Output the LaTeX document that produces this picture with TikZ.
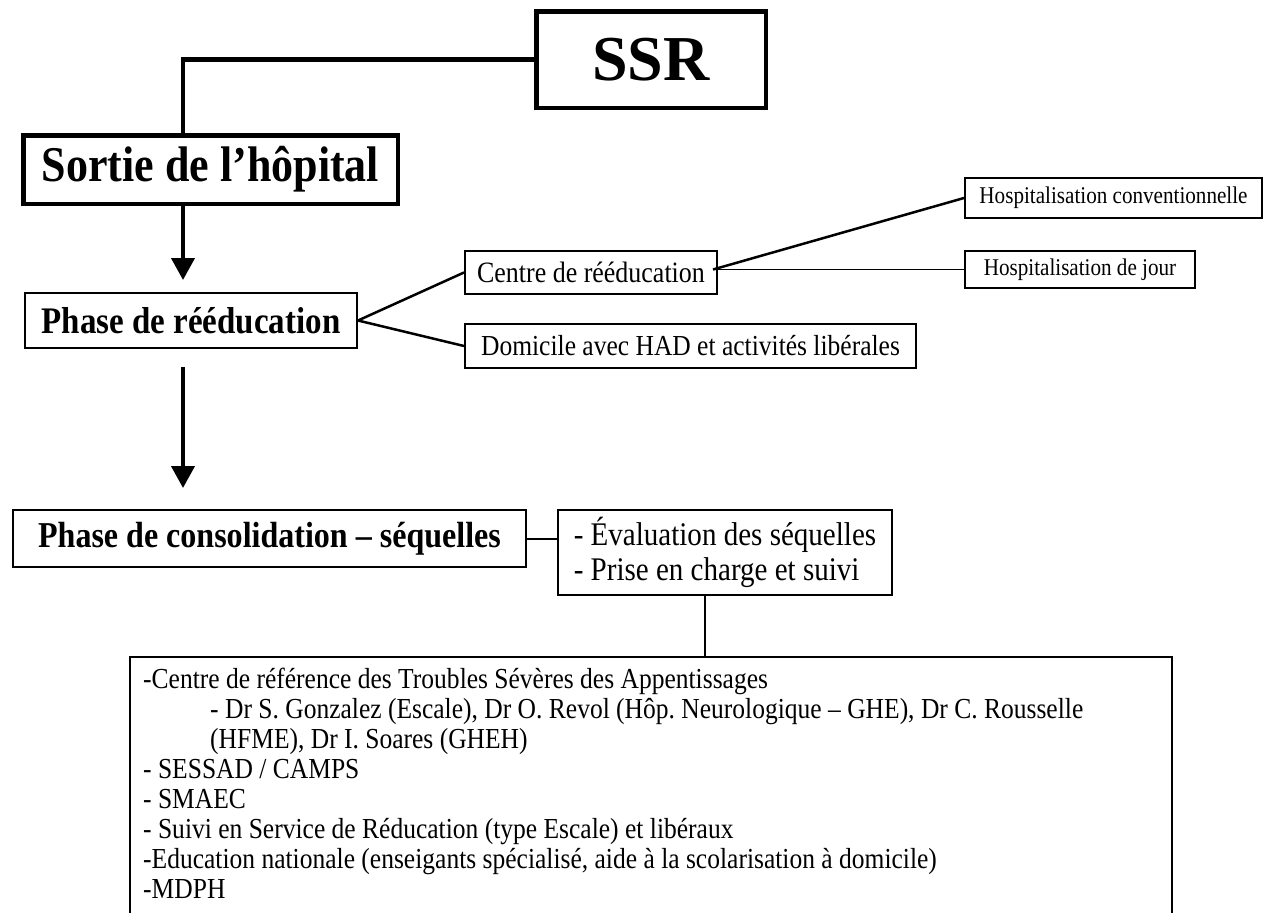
\documentclass[tikz,border=0pt]{standalone}
\usepackage{fontspec}
\setmainfont[FakeStretch=0.88]{Liberation Serif}
\newfontfamily\droit{Liberation Serif}
\usetikzlibrary{arrows.meta}

\begin{document}
\frenchspacing
\begin{tikzpicture}[x=1pt,y=-1pt,
  boite/.style={draw,line width=2pt,inner sep=0pt,align=center},
  grasse/.style={boite,line width=4.5pt},
  lien/.style={line width=2pt},
  fleche/.style={line width=4pt,-{Triangle[width=23pt,length=22pt]}}]
\useasboundingbox (0,0) rectangle (1264,913);
\coordinate (axe) at (183,0);
\coordinate (descente) at (705,0);

% SSR et sortie
\node[grasse,minimum width=229.5pt,minimum height=96.5pt,font=\droit\fontsize{64}{70}\selectfont\bfseries] (ssr) at (651,59.5) {SSR};
\node[grasse,minimum width=374.5pt,minimum height=68.5pt,font=\fontsize{50}{55}\selectfont\bfseries] (sortie) at (210.5,169.5) {Sortie de l’hôpital};
\draw[line width=4.5pt] (ssr.west) -| (sortie.north -| axe);

% Phase de reeducation
\node[boite,minimum width=332pt,minimum height=55pt,font=\fontsize{37.5}{42}\selectfont\bfseries] (reeduc) at (191,320.5) {Phase de rééducation};
\draw[fleche,shorten >=12pt] (sortie.south -| axe) -- (reeduc.north -| axe);

\node[boite,minimum width=252pt,minimum height=43pt,font=\fontsize{29.5}{34}\selectfont] (centre) at (591,272.5) {Centre de rééducation};
\node[boite,minimum width=451pt,minimum height=44pt,font=\fontsize{29}{34}\selectfont] (domicile) at (690.5,346) {Domicile avec HAD et activités libérales};
\draw[line width=2.5pt] (reeduc.east) -- (centre.west);
\draw[line width=2.5pt] (reeduc.east) -- (domicile.west);

\node[boite,minimum width=297pt,minimum height=40pt,font=\fontsize{24}{28}\selectfont] (hconv) at (1113.5,198) {Hospitalisation conventionnelle};
\node[boite,minimum width=230pt,minimum height=37pt,font=\fontsize{24}{28}\selectfont] (hjour) at (1080,269.5) {Hospitalisation de jour};
\draw[line width=2.5pt] ([xshift=-5pt,yshift=3pt]centre.east) -- (hconv.west);
\draw[line width=1.5pt] ([xshift=-5pt,yshift=3pt]centre.east) -- (hjour.west);

% Phase de consolidation
\node[boite,minimum width=513pt,minimum height=57pt,font=\fontsize{36.4}{41}\selectfont\bfseries] (consol) at (269.5,538.5) {Phase de consolidation – séquelles};
\draw[fleche,shorten <=18pt,shorten >=21pt] (reeduc.south -| axe) -- (consol.north -| axe);

\node[boite,minimum width=334pt,minimum height=85pt,align=flush left,font=\fontsize{33}{35}\selectfont] (eval) at (725,552.5) {- Évaluation des séquelles\\- Prise en charge et suivi};
\draw[lien] (consol.east) -- (consol.east -| eval.west);

% Prise en charge
\node[boite,anchor=north west,minimum width=1042pt,minimum height=320pt] (liste) at (129,656) {};
\draw[lien] (eval.south -| descente) -- (liste.north -| descente);
\node[anchor=base west,text width=1020pt,align=flush left,inner sep=0pt,font=\fontsize{29}{30}\selectfont] (listetexte) at (143,688) {-Centre de référence des Troubles Sévères des Appentissages\\
\hspace*{67pt}- Dr S. Gonzalez (Escale), Dr O. Revol (Hôp. Neurologique – GHE), Dr C. Rousselle\\
\hspace*{67pt}(HFME), Dr I. Soares (GHEH)\\
- SESSAD / CAMPS\\
- SMAEC\\
- Suivi en Service de Réducation (type Escale) et libéraux\\
-Education nationale (enseigants spécialisé, aide à la scolarisation à domicile)\\
-MDPH};

\end{tikzpicture}
\end{document}
